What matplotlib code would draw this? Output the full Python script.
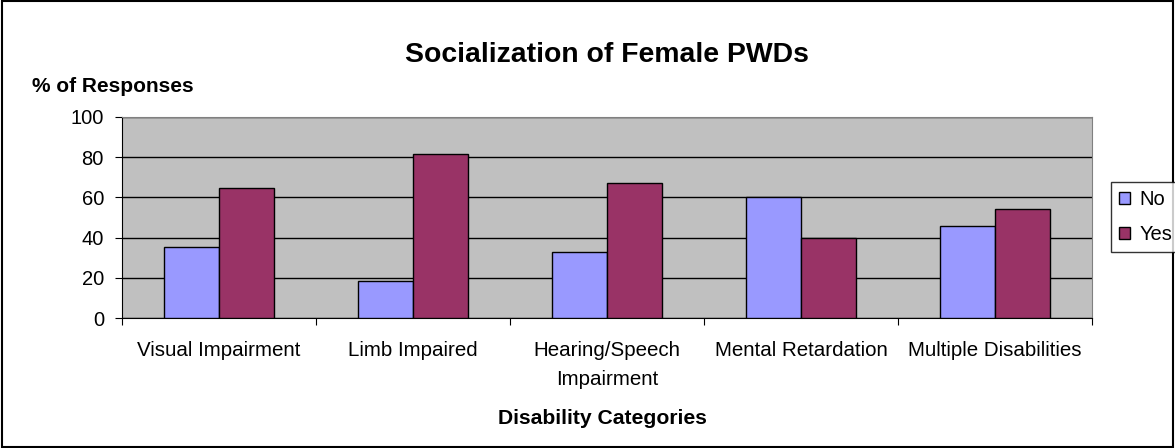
import matplotlib
matplotlib.use("Agg")
import matplotlib.pyplot as plt
import numpy as np
from matplotlib.patches import Rectangle

plt.rcParams['font.family'] = ['Liberation Sans', 'DejaVu Sans']

categories = ["Visual Impairment", "Limb Impaired", "Hearing/Speech\nImpairment",
              "Mental Retardation", "Multiple Disabilities"]
no_vals = [35.5, 18.5, 33, 60, 46]
yes_vals = [64.5, 81.5, 67, 40, 54]
yticks = [0, 20, 40, 60, 80, 100]

W, H = 1175, 448
fig = plt.figure(figsize=(W/100, H/100), dpi=100)
ax = fig.add_axes([122/W, 1-318/H, 970/W, 201/H])
ax.set_facecolor('#C0C0C0')

x = np.arange(len(categories))
w = 1/3.5
ax.bar(x - w/2, no_vals, w, color='#9999FF', edgecolor='black', linewidth=1, label='No', zorder=3)
ax.bar(x + w/2, yes_vals, w, color='#993366', edgecolor='black', linewidth=1, label='Yes', zorder=3)

ax.set_xlim(-0.5, len(categories) - 0.5)
ax.set_ylim(0, 100)
ax.set_yticks(yticks)
ax.set_yticklabels([str(t) for t in yticks], fontsize=14.5)
ax.yaxis.grid(True, color='black', linewidth=1, zorder=1)
ax.set_axisbelow(True)

ax.set_xticks(np.arange(-0.5, len(categories), 1))
ax.set_xticklabels([])
ax.set_xticks(x, minor=True)
ax.set_xticklabels(categories, minor=True, fontsize=14.8, linespacing=1.65)
ax.tick_params(axis='x', which='minor', length=0, pad=16.5)
ax.tick_params(axis='x', which='major', length=5, direction='out', color='black')
ax.tick_params(axis='y', length=5, direction='out', pad=8)

for s in ['top', 'right']:
    ax.spines[s].set_color('#808080')
for s in ['left', 'bottom']:
    ax.spines[s].set_color('black')

fig.text(607/W, 1-62.5/H, "Socialization of Female PWDs", fontsize=20.4, fontweight='bold',
         ha='center', va='baseline')
fig.text(31.5/W, 1-91.5/H, "% of Responses", fontsize=15, fontweight='bold',
         ha='left', va='baseline')
fig.text(602/W, 1-424/H, "Disability Categories", fontsize=15.2, fontweight='bold',
         ha='center', va='baseline')

leg = fig.legend(loc='upper left', bbox_to_anchor=(1111/W, 1-182/H), fontsize=14.5,
                 frameon=True, fancybox=False, edgecolor='black', handlelength=0.55,
                 handleheight=0.55, handletextpad=0.45, borderpad=0.4, labelspacing=0.8,
                 borderaxespad=0)
leg.get_frame().set_linewidth(1)

fig.patches.append(Rectangle((0.002, 0.003), 0.996, 0.994, transform=fig.transFigure,
                             fill=False, edgecolor='black', linewidth=1.5))

fig.savefig("out.png", dpi=100, facecolor='white')
